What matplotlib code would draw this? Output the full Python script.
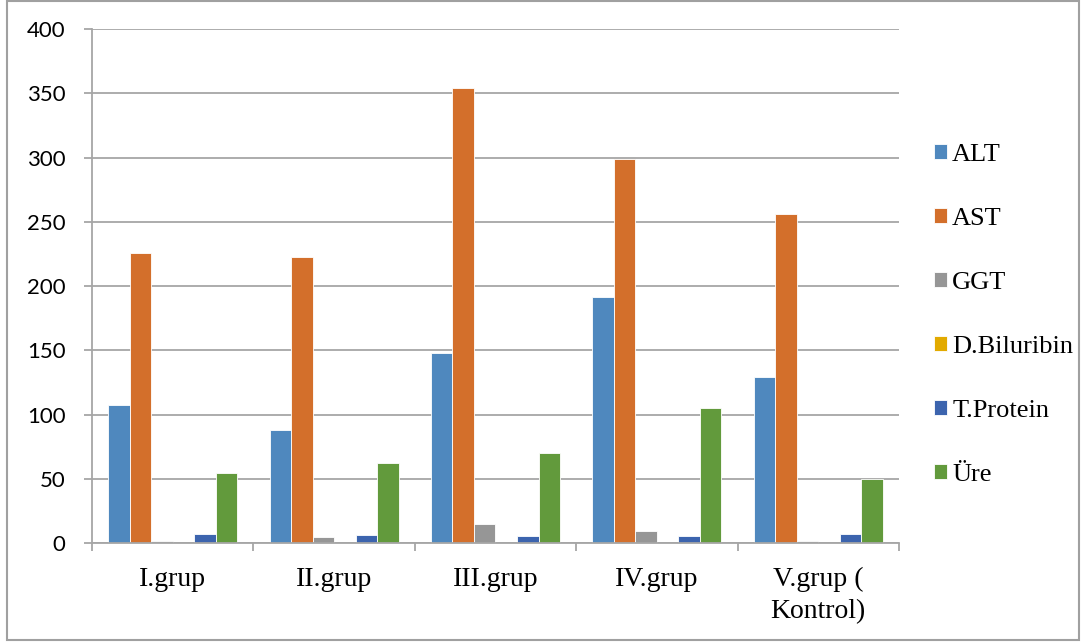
import numpy as np
import matplotlib.pyplot as plt
from matplotlib.patches import Rectangle

groups = ['I.grup', 'II.grup', 'III.grup', 'IV.grup', 'V.grup (\nKontrol)']
series = ['ALT', 'AST', 'GGT', 'D.Biluribin', 'T.Protein', 'Üre']

alt = [107.4, 88.0, 148.1, 191.2, 129.0]
ast = [225.9, 222.6, 353.8, 298.8, 255.8]
ggt = [1.5, 4.4, 14.8, 9.6, 1.5]
dbil = [0.3, 0.3, 0.3, 0.3, 0.3]
tprot = [6.7, 6.2, 5.7, 5.4, 6.7]
ure = [54.2, 62.5, 70.0, 105.3, 50.0]

values = [alt, ast, ggt, dbil, tprot, ure]
colors = ['#4F88BE', '#D36F2B', '#969696', '#E2AA00', '#3C64AE', '#629A3C']

fig = plt.figure(figsize=(10.84, 6.43), dpi=100)
ax = fig.add_axes([0.0849, 0.1555, 0.7444, 0.7994])

x = np.arange(len(groups))
w = 0.8 / len(series)
for k, (name, vals) in enumerate(zip(series, values)):
    ax.bar(x + (k - 2.5) * w, vals, width=w, color=colors[k], label=name,
           edgecolor='white', linewidth=0.6, zorder=3)

ax.set_xlim(-0.5, len(groups) - 0.5)
ax.set_ylim(0, 400)
ax.set_yticks(range(0, 401, 50))
ax.yaxis.grid(True, color='#A6A6A6', linewidth=1.3, zorder=0)

grey = '#A6A6A6'
for s in ['top', 'right']:
    ax.spines[s].set_visible(False)
for s in ['left', 'bottom']:
    ax.spines[s].set_color(grey)
    ax.spines[s].set_linewidth(1.3)
    ax.spines[s].set_zorder(4)

ax.tick_params(axis='y', length=6, width=1.3, color=grey, pad=13,
               labelsize=16)
for lab in ax.get_yticklabels():
    lab.set_fontfamily('Lato')

ax.set_xticks(x)
ax.set_xticklabels(groups, fontfamily='Liberation Serif', fontsize=20,
                   linespacing=1.4, va='top')
ax.tick_params(axis='x', which='major', length=0, pad=17)
ax.set_xticks(np.arange(-0.5, len(groups)), minor=True)
ax.tick_params(axis='x', which='minor', length=6, width=1.3, color=grey)

ax.legend(loc='upper left', bbox_to_anchor=(1.03, 0.797), frameon=False,
          prop={'family': 'Liberation Serif', 'size': 19},
          handlelength=0.5, handleheight=0.5, handletextpad=0.2,
          labelspacing=1.59, borderaxespad=0)

fig.patches.append(Rectangle((0.006, 0.004), 0.989, 0.994,
                             transform=fig.transFigure, fill=False,
                             edgecolor='#A0A0A0', linewidth=1.5))

fig.savefig('out.png', dpi=100)
